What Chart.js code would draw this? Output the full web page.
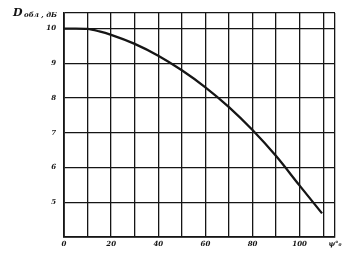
<!DOCTYPE html>
<html>
<head>
<meta charset="utf-8">
<script src="https://cdn.jsdelivr.net/npm/chart.js@4"></script>
<style>
  body { margin: 0; background: #fff; }
</style>
</head>
<body>
<canvas id="myChart" width="348" height="258"></canvas>
<script>
// Values: angle (deg) and D (dB)
let angles = [0, 5, 10, 15, 20, 30, 40, 50, 60, 70, 80, 90, 100, 109.5];
let gainDb = [10, 10, 9.99, 9.92, 9.82, 9.56, 9.22, 8.8, 8.31, 7.74, 7.08, 6.33, 5.48, 4.68];

let xTicks = [0, 10, 20, 30, 40, 50, 60, 70, 80, 90, 100, 110, 115];
let xLabels = [0, 20, 40, 60, 80, 100];
let yTicks = [4, 5, 6, 7, 8, 9, 10, 10.45];
let yLabels = [5, 6, 7, 8, 9, 10];

let xTitle = "ψ°₀";

let points = angles.map((a, i) => ({ x: a, y: gainDb[i] }));

const ink = "#151515";
const tickFont = { family: "DejaVu Serif", size: 7, style: "italic", weight: "bold" };

// Y axis title in the top left corner
const titlePlugin = {
  id: "cornerTitle",
  afterDraw(chart) {
    const c = chart.ctx;
    c.save();
    c.fillStyle = ink;
    c.textBaseline = "middle";
    c.font = "italic bold 11px 'DejaVu Serif'";
    c.fillText("D", 13, 13);
    c.font = "italic bold 7px 'DejaVu Serif'";
    c.fillText("обл , дБ", 24, 15);
    c.restore();
  },
};

const ctx = document.querySelector("#myChart");
let chart = new Chart(ctx, {
  type: "scatter",
  data: {
    datasets: [
      {
        data: points,
        showLine: true,
        borderColor: ink,
        borderWidth: 2.3,
        pointRadius: 0,
        cubicInterpolationMode: "monotone",
        fill: false,
      },
    ],
  },
  plugins: [titlePlugin],
  options: {
    responsive: false,
    animation: false,
    layout: { padding: { top: 13, right: 13, left: 0, bottom: 0 } },
    plugins: { legend: { display: false }, tooltip: { enabled: false } },
    scales: {
      x: {
        type: "linear",
        min: 0,
        max: 115,
        afterBuildTicks: (axis) => {
          axis.ticks = xTicks.map((v) => ({ value: v }));
        },
        afterFit: (axis) => {
          axis.height = 21;
        },
        ticks: {
          autoSkip: false,
          maxRotation: 0,
          padding: 3,
          color: ink,
          font: tickFont,
          callback: (v) => {
            if (xLabels.includes(v)) return String(v);
            if (v === 115) return xTitle;
            return "";
          },
        },
        grid: { color: ink, lineWidth: 1.3, drawTicks: false },
        border: { color: ink, width: 1.8 },
      },
      y: {
        type: "linear",
        min: 4,
        max: 10.45,
        afterBuildTicks: (axis) => {
          axis.ticks = yTicks.map((v) => ({ value: v }));
        },
        afterFit: (axis) => {
          axis.width = 64;
        },
        ticks: {
          autoSkip: false,
          padding: 8,
          color: ink,
          font: tickFont,
          callback: (v) => (yLabels.includes(v) ? String(v) : ""),
        },
        grid: { color: ink, lineWidth: 1.3, drawTicks: false },
        border: { color: ink, width: 1.8 },
      },
    },
  },
});
</script>
</body>
</html>
